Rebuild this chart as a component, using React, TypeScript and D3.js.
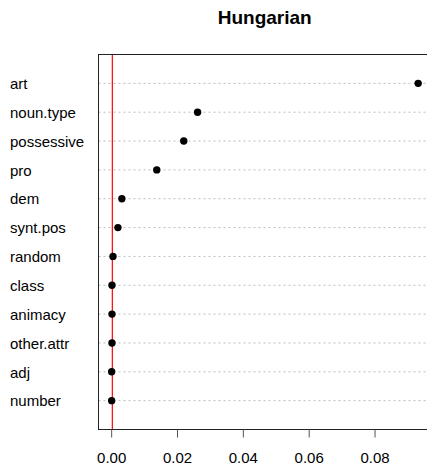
import React from "react";
import * as d3 from "d3";

const categories = ["art", "noun.type", "possessive", "pro", "dem", "synt.pos", "random", "class", "animacy", "other.attr", "adj", "number"];
const values = [0.0931, 0.0261, 0.0219, 0.0137, 0.0031, 0.0019, 0.0004, 0.0001, 0.0001, 0.0001, 0.0, 0.0];
const xTicks = [0, 0.02, 0.04, 0.06, 0.08];
const title = "Hungarian";
const refLine = 0.0002;

export default function App() {
  const W = 427, H = 466;
  const left = 98.5, right = 431, top = 54.5, bottom = 429.5;
  const x = d3.scaleLinear().domain([-0.0040, 0.0970]).range([left, right]);
  const y = d3.scaleLinear().domain([0, categories.length + 1]).range([bottom, top]);
  const rowY = (i: number) => y(categories.length - i);
  const font = "'Liberation Sans', Arial, sans-serif";
  return (
    <svg width={W} height={H} style={{ position: "absolute", left: 0, top: 0, background: "#fff" }} fontFamily={font}>
      <text x={(left + right) / 2} y={23.5} textAnchor="middle" fontSize={19} fontWeight="bold" fill="#000">{title}</text>
      {categories.map((c, i) => (
        <g key={c}>
          <line x1={left} x2={right} y1={rowY(i)} y2={rowY(i)} stroke="#bdbdbd" strokeWidth={1} strokeDasharray="2,3" />
          <text x={10} y={rowY(i) + 5.7} fontSize={15} fill="#000">{c}</text>
        </g>
      ))}
      <line x1={x(refLine)} x2={x(refLine)} y1={top} y2={bottom} stroke="#ff0000" strokeWidth={1.2} />
      {categories.map((c, i) => (
        <circle key={c} cx={x(values[i])} cy={rowY(i)} r={3.7} fill="#000" />
      ))}
      <rect x={left} y={top} width={right - left} height={bottom - top} fill="none" stroke="#222" strokeWidth={1} />
      {xTicks.map((t) => (
        <g key={t}>
          <line x1={x(t)} x2={x(t)} y1={bottom} y2={bottom + 8} stroke="#555" strokeWidth={1} />
          <text x={x(t)} y={463} textAnchor="middle" fontSize={15} fill="#000">{t.toFixed(2)}</text>
        </g>
      ))}
    </svg>
  );
}
